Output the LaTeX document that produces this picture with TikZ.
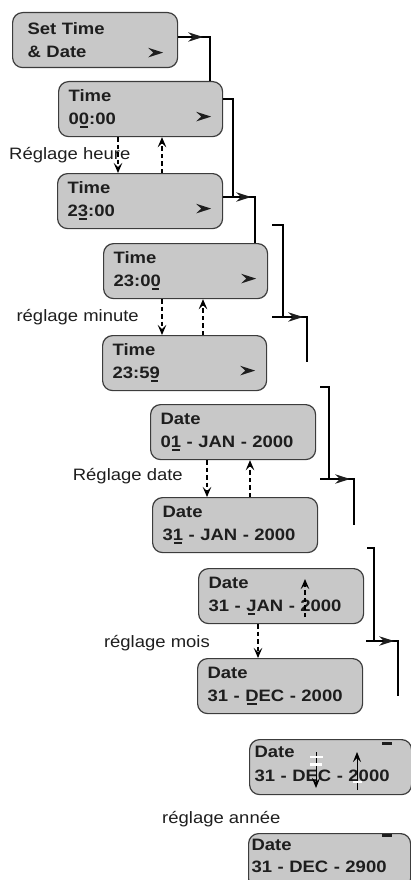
\documentclass[tikz,border=0pt]{standalone}
\usepackage{fontspec}
\setmainfont[FakeStretch=1.12]{Liberation Sans}
\usetikzlibrary{arrows.meta}
\definecolor{boxfill}{RGB}{200,200,200}
\definecolor{boxline}{RGB}{60,60,60}
\definecolor{ink}{RGB}{30,30,30}
\newcommand\ulc[1]{\setbox0=\hbox{#1}\rlap{\hspace{0.15\wd0}\rule[-3.5pt]{0.7\wd0}{2pt}}#1}
\tikzset{
  box/.style={draw=boxline, line width=1.2pt, fill=boxfill, rounded corners=10pt,
    anchor=north west, minimum height=55pt, minimum width=#1, text width=#1-20pt,
    inner xsep=10pt, inner ysep=0pt, align=left, text=ink,
    font=\bfseries\fontsize{16.5}{23}\selectfont},
  lbl/.style={inner sep=0pt, text=ink, font=\fontsize{16.5}{20}\selectfont},
  conn/.style={draw=black, line width=1.1pt},
  dasharr/.style={draw=black, line width=1.1pt, dash pattern=on 4.5pt off 3pt,
    -{Stealth[length=10pt,width=8.5pt,inset=4pt]}},
  thinarr/.style={draw=black, line width=0.9pt,
    -{Stealth[length=10pt,width=8pt,inset=4pt]}},
  rtri/.pic={\fill[ink] (0,0) -- (-15,-4.8) -- (-10,0) -- (-15,4.8) -- cycle;}
}
\begin{document}
\begin{tikzpicture}[x=1pt,y=-1pt]
\useasboundingbox (0,0) rectangle (411,880);
% boxes
\node[box=165pt] (b1) at (12,12) {\hspace*{5pt}Set Time\\\hspace*{5pt}\& Date};
\node[box=164pt] (b2) at (58,81) {Time\\0\ulc{0}:00};
\node[box=165pt] (b3) at (57,173) {Time\\2\ulc{3}:00};
\node[box=164pt] (b4) at (103,243) {Time\\23:0\ulc{0}};
\node[box=164pt] (b5) at (102,335) {Time\\23:5\ulc{9}};
\node[box=165pt] (b6) at (150,404) {Date\\0\ulc{1} - JAN - 2000};
\node[box=165pt] (b7) at (152,497) {Date\\3\ulc{1} - JAN - 2000};
\node[box=165pt] (b8) at (198,568) {Date\\31 - \ulc{J}AN - 2000};
\node[box=165pt] (b9) at (197,658) {Date\\31 - \ulc{D}EC - 2000};
\node[box=162pt, inner xsep=5pt, text width=152pt, font=\bfseries\fontsize{16.5}{24}\selectfont]
  (b10) at (249,739) {Date\\31 - DEC - 2000\rule[-6pt]{0pt}{0pt}};
\node[box=162pt, inner xsep=3pt, text width=156pt, font=\bfseries\fontsize{16.5}{22}\selectfont]
  (b11) at (248,833) {Date\\31 - DEC - 2900\rule[-10pt]{0pt}{0pt}};
% in-box arrowheads
\pic at ([xshift=-15pt,yshift=-12.5pt]b1.east) {rtri};
\foreach \b in {b2,b3,b4,b5}
  \pic at ([xshift=-12pt,yshift=-7.5pt]\b.east) {rtri};
% top-right dashes
\fill[ink] (382,742) rectangle (392,744.5);
\fill[ink] (382,834) rectangle (392,836.5);
% labels
\node[lbl, anchor=base west] (l1) at (9,159) {Réglage heure};
\node[lbl, anchor=base east] (l2) at (139,321) {réglage minute};
\node[lbl, anchor=base east] (l3) at (183,480) {Réglage date};
\node[lbl, anchor=base east] (l4) at (210,647) {réglage mois};
\node[lbl, anchor=base west] (l5) at (162,823) {réglage année};
% main connectors
\coordinate (k1) at (210,37);
\draw[conn] (b1.east |- k1) -- (k1) -- (k1 |- b2.north);
\pic at (203,37) {rtri};
\coordinate (k2) at (233,99);
\coordinate (k3) at (255,197);
\draw[conn] (b2.east |- k2) -- (k2) -- (k2 |- k3);
\draw[conn] (b3.east |- k3) -- (k3) -- (k3 |- b4.north);
\pic at (251,197) {rtri};
% brackets
\coordinate (m1) at (283,225); \coordinate (n1) at (307,317);
\draw[conn] (272,225) -- (m1) -- (m1 |- n1);
\draw[conn] (272,317) -- (n1) -- (307,362);
\pic at (303,317) {rtri};
\coordinate (m2) at (329,387); \coordinate (n2) at (354,479);
\draw[conn] (320,387) -- (m2) -- (m2 |- n2);
\draw[conn] (320,479) -- (n2) -- (354,525);
\pic at (350,479) {rtri};
\coordinate (m3) at (374,548); \coordinate (n3) at (398,641);
\draw[conn] (367,548) -- (m3) -- (m3 |- n3);
\draw[conn] (366,641) -- (n3) -- (398,696);
\pic at (394,641) {rtri};
% dashed adjust arrows
\draw[dasharr] (b2.south -| 118,0) -- (b3.north -| 118,0);
\draw[dasharr] (b3.north -| 162,0) -- (b2.south -| 162,0);
\draw[dasharr] (b4.south -| 162,0) -- (b5.north -| 162,0);
\draw[dasharr] (b5.north -| 203,0) -- (b4.south -| 203,0);
\draw[dasharr] (b6.south -| 207,0) -- (b7.north -| 207,0);
\draw[dasharr] (b7.north -| 250,0) -- (b6.south -| 250,0);
\draw[dasharr] (b8.south -| 258,0) -- (b9.north -| 258,0);
\draw[dasharr] (305,617) -- (305,579);
% year arrows inside b10
\draw[thinarr] (316,752) -- (316,788);
\draw[thinarr] (357,790) -- (357,752);
\fill[white] (310,755.5) rectangle (323,758);
\fill[white] (310,763) rectangle (322,765.5);
\fill[white] (353,780.5) rectangle (362,782.5);
\end{tikzpicture}
\end{document}
